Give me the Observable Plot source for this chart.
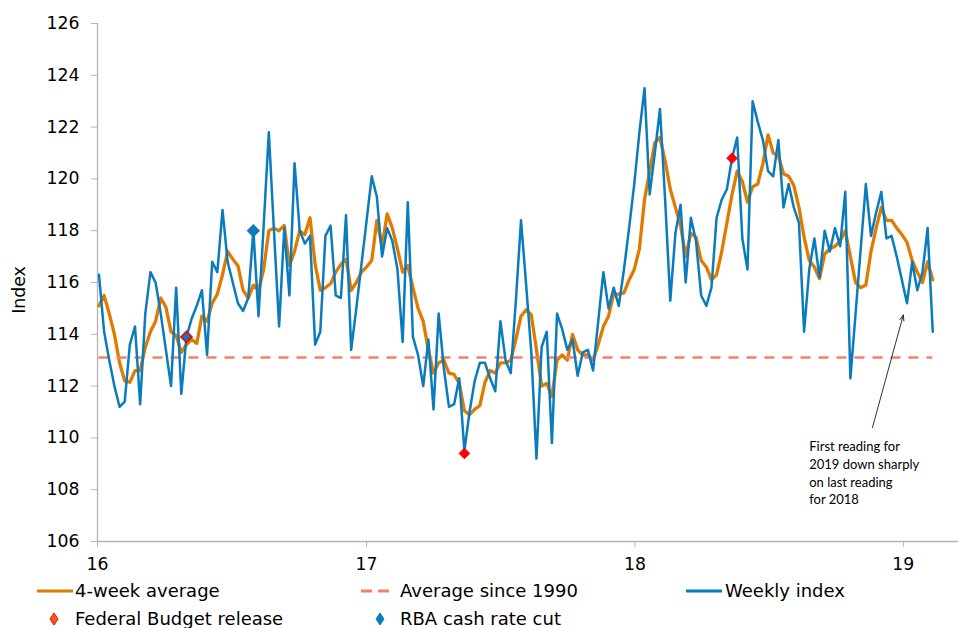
<!DOCTYPE html>
<html>
<head>
<meta charset="utf-8">
<script src="https://cdn.jsdelivr.net/npm/d3@7"></script>
<script src="https://cdn.jsdelivr.net/npm/@observablehq/plot@0.6"></script>
<style>
  html, body { margin: 0; padding: 0; background: #fff; }
  #wrap { position: relative; width: 958px; height: 628px; overflow: hidden; font-family: "DejaVu Sans", sans-serif; }
  #chart { position: absolute; left: 0; top: 0; }
  .lg { position: absolute; font-size: 18px; line-height: 20px; color: #000; white-space: nowrap; }
  .sw { position: absolute; }
</style>
</head>
<body>
<div id="wrap">
  <div id="chart"></div>
  <div id="legend"></div>
</div>
<script>
// ---- data ----
const weekStart = "2016-01-03";
const weeklyIndex = [
  116.3, 114.1, 113.0, 112.0, 111.2, 111.4, 113.6, 114.3, 111.3, 114.8,
  116.4, 116.0, 114.8, 113.4, 112.0, 115.8, 111.7, 113.9, 114.6, 115.1,
  115.7, 113.2, 116.8, 116.4, 118.8, 116.8, 116.0, 115.2, 114.9, 115.4,
  118.0, 114.7, 118.2, 121.8, 118.0, 114.3, 118.1, 115.5, 120.6, 118.0,
  117.5, 117.8, 113.6, 114.1, 117.8, 118.2, 115.5, 115.4, 118.6, 113.4,
  115.0, 116.7, 118.4, 120.1, 119.3, 117.0, 118.1, 117.6, 116.5, 113.7,
  119.1, 113.9, 113.2, 112.0, 113.8, 111.1, 114.8, 112.7, 111.2, 111.3,
  112.3, 109.5, 111.0, 112.2, 112.9, 112.9, 112.3, 111.8, 114.5, 113.0,
  112.5, 115.3, 118.4, 115.9, 113.3, 109.2, 113.5, 114.1, 109.8, 114.8,
  114.2, 113.4, 113.8, 112.4, 113.3, 113.4, 112.6, 114.5, 116.4, 115.0,
  115.8, 115.1, 116.5, 118.1, 119.8, 121.8, 123.5, 119.4, 121.0, 122.7,
  119.2, 115.3, 117.9, 119.0, 116.0, 118.5, 117.6, 115.5, 115.1, 115.8,
  118.5, 119.2, 119.6, 120.8, 121.6, 117.7, 116.5, 123.0, 122.2, 121.5,
  120.3, 120.1, 121.5, 118.9, 119.8, 118.9, 118.3, 114.1, 116.5, 117.7,
  116.2, 118.0, 117.2, 118.1, 117.4, 119.5, 112.3, 114.8, 117.3, 119.8,
  117.8, 118.7, 119.5, 117.7, 117.8, 117.0, 116.1, 115.2, 116.8, 115.7,
  116.4, 118.1, 114.1
];
const fourWeekAverage = [
  115.1, 115.5, 114.8, 114.0, 112.9, 112.2, 112.15, 112.6, 112.6, 113.5,
  114.1, 114.5, 115.4, 115.05, 114.1, 113.95, 113.3, 113.6, 113.8, 113.65,
  114.7, 114.5, 115.2, 115.55, 116.3, 117.2, 116.9, 116.65, 115.7, 115.4,
  115.9, 115.7, 116.5, 118.0, 118.1, 118.0, 118.2, 116.65, 117.2, 118.0,
  117.85, 118.5, 116.7, 115.7, 115.8, 115.95, 116.4, 116.7, 116.9, 115.7,
  116.0, 116.4, 116.6, 116.85, 118.4, 117.4, 118.65, 118.1, 117.3, 116.4,
  116.65, 115.8, 115.0, 114.5, 113.4, 112.5, 112.9, 113.0, 112.5, 112.45,
  112.1, 111.05, 110.9, 111.1, 111.25, 112.15, 112.6, 112.5, 112.9, 112.9,
  113.0, 113.8, 114.7, 114.95, 114.75, 113.4, 112.0, 112.1, 111.6, 113.0,
  113.2, 113.0, 114.0, 113.4, 113.2, 113.2, 113.0, 113.6, 114.3, 114.7,
  115.55, 115.55, 115.6, 116.1, 116.5, 117.3, 119.2, 120.3, 121.4, 121.6,
  120.7, 119.6, 118.9, 118.2, 117.0, 117.9, 117.75, 116.85, 116.6, 116.1,
  116.3, 117.2, 118.3, 119.4, 120.3, 119.9, 119.1, 119.7, 119.8, 120.6,
  121.7, 121.0, 120.9, 120.2, 120.1, 119.75, 118.9, 117.75, 116.85, 116.6,
  116.15, 117.1, 117.3, 117.4, 117.6, 118.0, 117.0, 116.0, 115.8, 115.9,
  117.2, 118.1, 118.9, 118.4, 118.4, 118.1, 117.85, 117.55, 116.85, 116.4,
  116.0, 116.8, 116.1
];
const averageSince1990 = 113.1;

const budgetDates = ["2016-05-01", "2017-05-14", "2018-05-13"];
const budgetValues = [113.9, 109.4, 120.8];
const rbaCutDates = ["2016-05-01", "2016-07-31"];
const rbaCutValues = [113.9, 118.0];

const yTicks = [106, 108, 110, 112, 114, 116, 118, 120, 122, 124, 126];
const xTickYears = [2016, 2017, 2018, 2019];
const xTickLabels = ["16", "17", "18", "19"];

const annotationText = "First reading for\n2019 down sharply\non last reading\nfor 2018";
const annotationAt = {date: "2018-08-26", value: 110.0};
const arrowFrom = {date: "2018-11-20", value: 110.4};
const arrowTo = {date: "2019-01-01", value: 114.75};

// ---- colours ----
const cOrange = "#e07b00";
const cBlue = "#0a7bbd";
const cDash = "#f4806a";
const cRed = "#ff0000";
const cAxis = "#b4b4b4";

// ---- tables ----
const start = new Date(weekStart);
const rows = weeklyIndex.map((v, i) => ({date: d3.utcDay.offset(start, 7 * i), weekly: v, avg: fourWeekAverage[i]}));
const budget = budgetDates.map((d, i) => ({date: new Date(d), value: budgetValues[i]}));
const rba = rbaCutDates.map((d, i) => ({date: new Date(d), value: rbaCutValues[i], both: budgetDates.includes(d)}));
const xDomain = [new Date("2016-01-01"), new Date("2019-03-17")];
const xTicks = xTickYears.map(y => new Date(Date.UTC(y, 0, 1)));

const chart = Plot.plot({
  width: 958,
  height: 575,
  marginLeft: 97,
  marginRight: 0,
  marginTop: 23,
  marginBottom: 34,
  style: {fontFamily: "DejaVu Sans", fontSize: "17.3px", color: "#000", background: "#fff", overflow: "visible"},
  x: {type: "utc", domain: xDomain},
  y: {domain: [106, 126]},
  marks: [
    Plot.axisY({ticks: yTicks, tickSize: 6, tickPadding: 12, stroke: cAxis, label: null}),
    Plot.axisX({ticks: xTicks, tickSize: 6, tickPadding: 10, stroke: cAxis, label: null,
      tickFormat: d => xTickLabels[xTickYears.indexOf(d.getUTCFullYear())]}),
    Plot.ruleX([xDomain[0]], {stroke: cAxis, strokeWidth: 1.3, y1: 106, y2: 126}),
    Plot.ruleY([106], {stroke: cAxis, strokeWidth: 1.3}),
    Plot.lineY(rows, {x: "date", y: "avg", stroke: cOrange, strokeWidth: 3.3, strokeLinejoin: "round"}),
    Plot.ruleY([averageSince1990], {x1: rows[0].date, x2: rows[rows.length - 1].date, stroke: cDash, strokeWidth: 2.5, strokeDasharray: "10 8"}),
    Plot.lineY(rows, {x: "date", y: "weekly", stroke: cBlue, strokeWidth: 2.5, strokeLinejoin: "round"}),
    Plot.dot(budget, {x: "date", y: "value", symbol: "diamond2", r: 4.8, fill: cRed, stroke: cRed, strokeWidth: 1}),
    Plot.dot(rba, {x: "date", y: "value", symbol: "diamond2", r: 5, fill: cBlue, stroke: d => d.both ? cRed : cBlue, strokeWidth: 1.6}),
    Plot.arrow([{}], {x1: () => new Date(arrowFrom.date), y1: () => arrowFrom.value,
      x2: () => new Date(arrowTo.date), y2: () => arrowTo.value,
      stroke: "#1f3350", strokeWidth: 1, headLength: 9, headAngle: 40}),
    Plot.text([annotationText], {x: () => new Date(annotationAt.date), y: () => annotationAt.value,
      text: d => d, textAnchor: "start", lineAnchor: "top", lineHeight: 1.38,
      fontSize: 13, fontFamily: "Lato", fill: "#000"})
  ]
});

// y-axis title
d3.select(chart).append("text")
  .attr("transform", "translate(19,290) rotate(-90)")
  .attr("text-anchor", "middle")
  .attr("dy", "0.35em")
  .attr("fill", "#000")
  .text("Index");

document.getElementById("chart").appendChild(chart);

// ---- legend ----
const legendItems = [
  {label: "4-week average", kind: "line", color: cOrange, sx: 37, sw: 36, tx: 75, row: 0},
  {label: "Average since 1990", kind: "dash", color: cDash, sx: 361, sw: 28, tx: 400, row: 0},
  {label: "Weekly index", kind: "line", color: cBlue, sx: 686, sw: 36, tx: 725, row: 0},
  {label: "Federal Budget release", kind: "diamond", color: "#f25a1e", edge: cRed, sx: 49, sw: 10, tx: 75, row: 1},
  {label: "RBA cash rate cut", kind: "diamond", color: cBlue, edge: cBlue, sx: 375, sw: 10, tx: 400, row: 1}
];
const rowY = [591, 619];
const lg = d3.select("#legend");
for (const it of legendItems) {
  const cy = rowY[it.row];
  if (it.kind === "diamond") {
    const s = lg.append("svg").attr("class", "sw").attr("width", 10).attr("height", 14)
      .style("left", it.sx + "px").style("top", (cy - 7) + "px");
    s.append("polygon").attr("points", "5,1 9,7 5,13 1,7").attr("fill", it.color).attr("stroke", it.edge).attr("stroke-width", 1);
  } else {
    const s = lg.append("svg").attr("class", "sw").attr("width", it.sw).attr("height", 6)
      .style("left", it.sx + "px").style("top", (cy - 3) + "px");
    s.append("line").attr("x1", 0).attr("x2", it.sw).attr("y1", 3).attr("y2", 3)
      .attr("stroke", it.color).attr("stroke-width", 3)
      .attr("stroke-dasharray", it.kind === "dash" ? "11 6" : null);
  }
  lg.append("div").attr("class", "lg").style("left", it.tx + "px").style("top", (cy - 10) + "px").text(it.label);
}
</script>
</body>
</html>
